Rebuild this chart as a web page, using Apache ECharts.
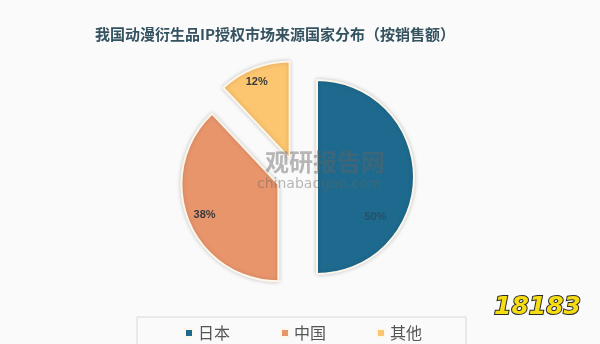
<!DOCTYPE html>
<html>
<head>
<meta charset="utf-8">
<script src="https://cdn.jsdelivr.net/npm/echarts@6/dist/echarts.min.js"></script>
<style>
html,body{margin:0;padding:0;background:#fafafa;}
#chart{width:600px;height:344px;}
</style>
</head>
<body>
<div id="chart"></div>
<script>
var titleText = '我国动漫衍生品IP授权市场来源国家分布（按销售额）';
var categories = ['日本', '中国', '其他'];
var values = [50, 38, 12];
var colors = ['#1d6a8e', '#e9956c', '#fcc56f'];
var labelColors = ['#2c4f66', '#3a3a3a', '#3a3a3a'];
var labelShift = [[7, 40], [-26, 12], [-14, -29]];

var chart = echarts.init(document.getElementById('chart'));
var data = categories.map(function (c, i) {
  return {
    name: c,
    value: values[i],
    selected: true,
    itemStyle: { color: colors[i] },
    label: { color: labelColors[i] }
  };
});

chart.setOption({
  backgroundColor: '#fafafa',
  animation: false,
  color: colors,
  title: {
    text: titleText,
    left: 270,
    textAlign: 'center',
    top: 22,
    textStyle: {
      fontFamily: 'Noto Sans CJK SC',
      fontSize: 15,
      fontWeight: 'bold',
      color: '#34525f'
    }
  },
  legend: {
    data: categories,
    left: 137,
    top: 317,
    icon: 'rect',
    itemWidth: 8,
    itemHeight: 8,
    itemGap: 50,
    padding: [8, 44, 30, 47],
    borderColor: '#d8d8d8',
    borderWidth: 1,
    selectedMode: false,
    textStyle: {
      fontFamily: 'Noto Sans CJK SC',
      fontSize: 16,
      color: '#555'
    }
  },
  graphic: [
    {
      type: 'text',
      left: 265,
      top: 150,
      z: 100,
      silent: true,
      style: {
        text: '观研报告网',
        font: 'bold 24px "Noto Sans CJK SC"',
        fill: 'rgba(100,100,100,0.45)'
      }
    },
    {
      type: 'text',
      left: 257,
      top: 177,
      z: 100,
      silent: true,
      style: {
        text: 'chinabaogao.com',
        font: '14px "DejaVu Sans"',
        fill: 'rgba(100,100,100,0.45)'
      }
    },
    {
      type: 'text',
      left: 493,
      top: 294,
      z: 100,
      silent: true,
      style: {
        text: '18183',
        font: 'italic bold 25px "DejaVu Sans"',
        fill: '#f6dc12',
        stroke: '#2a2a2a',
        lineWidth: 2
      }
    }
  ],
  series: [{
    type: 'pie',
    center: [297, 177],
    radius: 97,
    startAngle: 90,
    clockwise: true,
    selectedMode: 'multiple',
    selectedOffset: 20,
    avoidLabelOverlap: false,
    emphasis: { disabled: true },
    itemStyle: {
      borderColor: '#fdf6ea',
      borderWidth: 2,
      shadowBlur: 4,
      shadowColor: 'rgba(0,0,0,0.18)'
    },
    select: {
      itemStyle: {
        borderColor: '#fdf6ea',
        borderWidth: 2
      }
    },
    label: {
      show: true,
      position: 'inside',
      formatter: '{c}%',
      fontFamily: 'Liberation Sans',
      fontSize: 11,
      fontWeight: 'bold'
    },
    labelLine: { show: false },
    labelLayout: function (p) {
      var s = labelShift[p.dataIndex];
      return { dx: s[0], dy: s[1] };
    },
    data: data
  }]
});
</script>
</body>
</html>
